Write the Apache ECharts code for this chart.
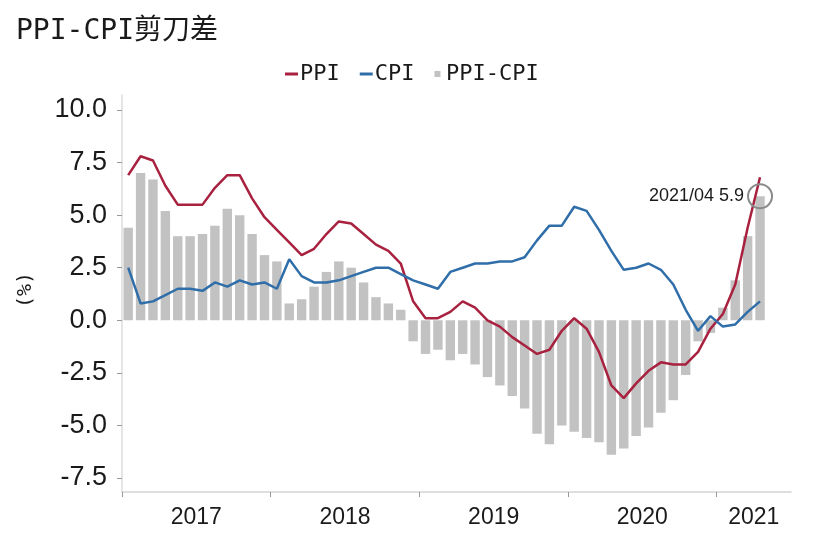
<!DOCTYPE html>
<html>
<head>
<meta charset="utf-8">
<script src="https://cdn.jsdelivr.net/npm/echarts@6/dist/echarts.min.js"></script>
<style>
html,body{margin:0;padding:0;background:#fff;}
#c{width:828px;height:537px;}
</style>
</head>
<body>
<div id="c"></div>
<script>
// Months Jan 2017 .. Jun 2021 (axis runs past last data point)
var months = [];
for (var y = 2017; y <= 2021; y++) {
  for (var m = 1; m <= 12; m++) {
    if (y === 2021 && m > 6) break;
    months.push(y + '-' + (m < 10 ? '0' + m : m));
  }
}
// month boundaries (55 edges) used for the year ticks / labels axis
var edges = [];
for (var i = 0; i <= months.length; i++) edges.push('e' + i);
var yearLabelIdx = {6: '2017', 18: '2018', 30: '2019', 42: '2020', 51: '2021'};
var yearTickIdx = [0, 12, 24, 36, 48];

var ppi = [6.9,7.8,7.6,6.4,5.5,5.5,5.5,6.3,6.9,6.9,5.8,4.9,
           4.3,3.7,3.1,3.4,4.1,4.7,4.6,4.1,3.6,3.3,2.7,0.9,
           0.1,0.1,0.4,0.9,0.6,0.0,-0.3,-0.8,-1.2,-1.6,-1.4,-0.5,
           0.1,-0.4,-1.5,-3.1,-3.7,-3.0,-2.4,-2.0,-2.1,-2.1,-1.5,-0.4,
           0.3,1.7,4.4,6.8];
var cpi = [2.5,0.8,0.9,1.2,1.5,1.5,1.4,1.8,1.6,1.9,1.7,1.8,
           1.5,2.9,2.1,1.8,1.8,1.9,2.1,2.3,2.5,2.5,2.2,1.9,
           1.7,1.5,2.3,2.5,2.7,2.7,2.8,2.8,3.0,3.8,4.5,4.5,
           5.4,5.2,4.3,3.3,2.4,2.5,2.7,2.4,1.7,0.5,-0.5,0.2,
           -0.3,-0.2,0.4,0.9];
var gap = [4.4,7.0,6.7,5.2,4.0,4.0,4.1,4.5,5.3,5.0,4.1,3.1,
           2.8,0.8,1.0,1.6,2.3,2.8,2.5,1.8,1.1,0.8,0.5,-1.0,
           -1.6,-1.4,-1.9,-1.6,-2.1,-2.7,-3.1,-3.6,-4.2,-5.4,-5.9,-5.0,
           -5.3,-5.6,-5.8,-6.4,-6.1,-5.5,-5.1,-4.4,-3.8,-2.6,-1.0,-0.6,
           0.6,1.9,4.0,5.9];
var annotateMonth = '2021-04';
var annotateValue = 5.9;
var annotateText = '2021/04 5.9';

var mono = "'DejaVu Sans Mono','Noto Sans CJK SC',monospace";
var sans = "'Liberation Sans',Arial,sans-serif";

var chart = echarts.init(document.getElementById('c'), null, {renderer: 'canvas'});
chart.setOption({
  animation: false,
  backgroundColor: '#fff',
  title: {
    text: 'PPI-CPI剪刀差',
    left: 11, top: 13,
    textStyle: {fontFamily: mono, fontSize: 28, fontWeight: 'normal', color: '#1a1a1a'}
  },
  legend: {
    top: 58, left: 280,
    itemGap: 20, itemWidth: 13, itemHeight: 6,
    textStyle: {fontFamily: mono, fontSize: 22, color: '#1a1a1a', padding: [0, 0, 0, -3]},
    data: [
      {name: 'PPI', icon: 'path://M0,0H13V3H0Z'},
      {name: 'CPI', icon: 'path://M0,0H13V3H0Z'},
      {name: 'PPI-CPI', icon: 'path://M0,0H6V6H0Z'}
    ]
  },
  grid: [
    {left: 122, right: 37, top: 110, bottom: 59},
    {left: 122, right: 37, top: 95, bottom: 45}
  ],
  xAxis: [
    {
      type: 'category', gridIndex: 0, data: months,
      show: false
    },
    {
      type: 'category', gridIndex: 1, data: edges, boundaryGap: false,
      axisLine: {show: true, lineStyle: {color: '#d4d4d4', width: 1.5}},
      axisTick: {
        show: true, length: 5, lineStyle: {color: '#999'},
        interval: function (i) { return yearTickIdx.indexOf(i) >= 0; }
      },
      axisLabel: {
        interval: function (i) { return yearLabelIdx[i] !== undefined; },
        formatter: function (v, i) { return yearLabelIdx[i] || ''; },
        fontFamily: sans, fontSize: 23, color: '#1a1a1a', margin: 14
      },
      splitLine: {show: false}
    }
  ],
  yAxis: [
    {
      type: 'value', gridIndex: 0, min: -7.5, max: 10, interval: 2.5,
      axisLine: {show: false},
      axisTick: {show: true, length: 5, lineStyle: {color: '#999'}},
      axisLabel: {
        formatter: function (v) { return v.toFixed(1); },
        fontFamily: sans, fontSize: 27, color: '#1a1a1a', margin: 15
      },
      splitLine: {show: false},
      name: '(%)', nameLocation: 'middle', nameRotate: 90, nameGap: 86,
      nameTextStyle: {fontFamily: mono, fontSize: 20, color: '#1a1a1a', padding: [0, 0, 0, 8]}
    },
    {
      type: 'value', gridIndex: 1, min: 0, max: 1,
      axisLine: {show: true, lineStyle: {color: '#dcdcdc', width: 1.5}},
      axisTick: {show: false}, axisLabel: {show: false}, splitLine: {show: false}
    }
  ],
  series: [
    {
      name: 'PPI-CPI', type: 'bar', xAxisIndex: 0, yAxisIndex: 0,
      data: gap, barWidth: '76%',
      itemStyle: {color: '#c2c2c2'},
      markPoint: {
        symbol: 'circle', symbolSize: 24,
        itemStyle: {color: 'rgba(0,0,0,0)', borderColor: '#8a8a8a', borderWidth: 2},
        label: {
          show: true, position: 'left', distance: 3,
          formatter: annotateText,
          fontFamily: sans, fontSize: 18, color: '#1a1a1a'
        },
        data: [{coord: [annotateMonth, annotateValue]}]
      }
    },
    {
      name: 'PPI', type: 'line', xAxisIndex: 0, yAxisIndex: 0,
      data: ppi, showSymbol: false, symbol: 'none',
      lineStyle: {color: '#a8213f', width: 2.5},
      itemStyle: {color: '#a8213f'}
    },
    {
      name: 'CPI', type: 'line', xAxisIndex: 0, yAxisIndex: 0,
      data: cpi, showSymbol: false, symbol: 'none',
      lineStyle: {color: '#2f6ea8', width: 2.5},
      itemStyle: {color: '#2f6ea8'}
    }
  ]
});
</script>
</body>
</html>
